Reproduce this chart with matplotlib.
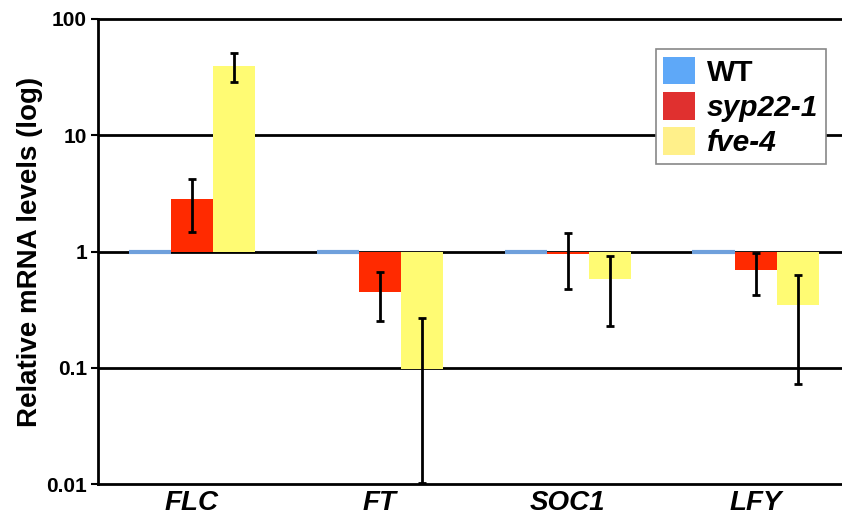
import matplotlib
matplotlib.use('Agg')
import matplotlib.pyplot as plt
from matplotlib.patches import Patch
import numpy as np

plt.rcParams['font.family'] = ['Liberation Sans', 'DejaVu Sans']

# ---- data (relative to WT = 1) ----
genes = ['FLC', 'FT', 'SOC1', 'LFY']
genotypes = ['WT', 'syp22-1', 'fve-4']

wt = [1.0, 1.0, 1.0, 1.0]
syp22 = [2.85, 0.445, 0.96, 0.70]
syp22_lo = [1.46, 0.25, 0.48, 0.42]
syp22_hi = [4.2, 0.66, 1.43, 0.98]
fve4 = [39.5, 0.097, 0.575, 0.35]
fve4_lo = [28.8, 0.0102, 0.227, 0.072]
fve4_hi = [51.0, 0.266, 0.92, 0.63]

y_ticks = [0.01, 0.1, 1, 10, 100]
y_tick_labels = ['0.01', '0.1', '1', '10', '100']

# colours
WT_BLUE = '#6fa0dc'
RED = '#ff2a00'
YELLOW = '#fffb73'
LEG_COLORS = ['#5ea8f8', '#e0302f', '#fff08a']

fig = plt.figure(figsize=(8.42, 5.18), dpi=100)
ax = fig.add_axes([98 / 842, 1 - 484 / 518, 1 - 98 / 842, (484 - 19) / 518])

x = np.arange(len(genes))
w = 0.224

# grid lines behind bars
for yv in y_ticks[1:-1]:
    ax.axhline(yv, color='black', lw=2, zorder=1)

# WT bars sit exactly on the baseline -> thin blue line
ax.hlines(wt, x - 1.5 * w, x - 0.5 * w, color=WT_BLUE, lw=3, zorder=3)

s = np.array(syp22)
f = np.array(fve4)
ax.bar(x, s - 1, bottom=1, width=w, color=RED, zorder=2)
ax.bar(x + w, f - 1, bottom=1, width=w, color=YELLOW, zorder=2)

ax.errorbar(x, s, yerr=[s - np.array(syp22_lo), np.array(syp22_hi) - s],
            fmt='none', ecolor='black', elinewidth=2, capsize=3, capthick=2, zorder=4)
ax.errorbar(x + w, f, yerr=[f - np.array(fve4_lo), np.array(fve4_hi) - f],
            fmt='none', ecolor='black', elinewidth=2, capsize=3, capthick=2, zorder=4)

ax.set_yscale('log')
ax.set_ylim(0.01, 100)
ax.set_xlim(-0.5, 3.46)
ax.set_yticks(y_ticks)
ax.set_yticklabels(y_tick_labels)
ax.minorticks_off()
ax.tick_params(axis='y', which='major', direction='out', length=5, width=1.5,
               labelsize=15, pad=3)
for lbl in ax.get_yticklabels():
    lbl.set_fontweight('bold')

ax.set_xticks(x)
ax.set_xticklabels(genes, fontsize=20, fontweight='bold', fontstyle='italic')
ax.tick_params(axis='x', length=0, pad=4)

ax.set_ylabel('Relative mRNA levels (log)', fontsize=20, fontweight='bold', labelpad=2)

for sp in ['left', 'bottom', 'top']:
    ax.spines[sp].set_linewidth(2)
    ax.spines[sp].set_color('black')
ax.spines['right'].set_visible(False)

# ---- legend ----
handles = [Patch(facecolor=c, edgecolor='none') for c in LEG_COLORS]
leg = ax.legend(handles, genotypes, loc='upper right', bbox_to_anchor=(0.978, 0.935),
                borderaxespad=0, fancybox=False, framealpha=1, edgecolor='#888888',
                fontsize=21.5, handlelength=1.05, handleheight=1.05, labelspacing=0.17,
                handletextpad=0.4, borderpad=0.25)
leg.get_frame().set_linewidth(1.2)
for i, t in enumerate(leg.get_texts()):
    t.set_fontweight('bold')
    if i > 0:
        t.set_fontstyle('italic')

plt.savefig('out.png', dpi=100)
